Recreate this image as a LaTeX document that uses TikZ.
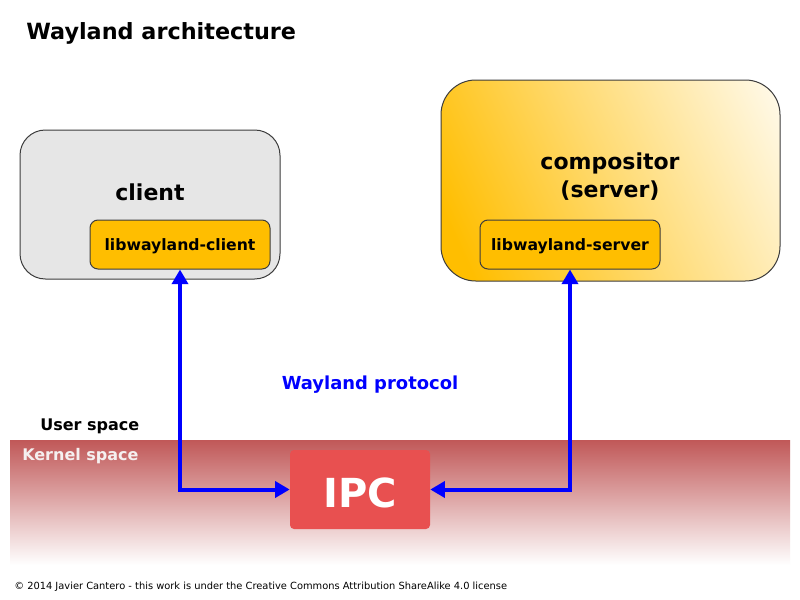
\documentclass[tikz,border=0pt]{standalone}
\usepackage{fontspec}
\setmainfont{DejaVu Sans}
\usetikzlibrary{arrows.meta}
\definecolor{amberc}{RGB}{255,190,0}
\definecolor{ambermid}{RGB}{255,218,112}
\definecolor{clientgray}{RGB}{230,230,230}
\definecolor{kernelred}{RGB}{192,88,88}
\definecolor{ipcred}{RGB}{232,80,80}
\definecolor{edgegray}{RGB}{60,60,60}
\pgfdeclarehorizontalshading{compshade}{100bp}{color(0bp)=(amberc); color(22bp)=(amberc); color(50bp)=(ambermid); color(88bp)=(white); color(100bp)=(white)}
\tikzset{
  bigbox/.style={draw=edgegray, line width=0.75pt, inner sep=0pt},
  libbox/.style={draw=edgegray, line width=0.75pt, fill=amberc, rounded corners=6pt,
    minimum width=135pt, minimum height=36.75pt, inner sep=0pt},
  bigtxt/.style={font=\bfseries\fontsize{16.5}{20.3}\selectfont, align=center},
  libtxt/.style={font=\bfseries\fontsize{11.75}{13}\selectfont},
  midtxt/.style={font=\bfseries\fontsize{12}{14}\selectfont},
  flow/.style={draw=blue, line width=3pt, {Triangle[length=11pt,width=12pt]}-{Triangle[length=11pt,width=12pt]}},
}
\begin{document}
\begin{tikzpicture}[x=0.75pt,y=-0.75pt]
\path[use as bounding box, fill=white] (0,0) rectangle (800,600);
% kernel band
\shade[top color=kernelred, bottom color=white] (10,440) rectangle (790,565);
% title
\node[anchor=base west, inner sep=0pt, font=\bfseries\fontsize{16.75}{20}\selectfont] (title) at (26,39) {Wayland architecture};
% client
\node[bigbox, fill=clientgray, rounded corners=19pt, minimum width=195pt, minimum height=111.75pt] (client) at (150,204.5) {};
\node[bigtxt, anchor=base, inner sep=0pt] (clienttxt) at (150,200) {client};
\node[libbox] (lc) at (180,244.5) {};
\node[libtxt, anchor=base, inner sep=0pt] (lctxt) at (180,250) {libwayland-client};
% compositor
\node[bigbox, shading=compshade, shading angle=25, rounded corners=26pt, minimum width=254.25pt, minimum height=150.75pt] (comp) at (610.5,180.5) {};
\node[bigtxt, anchor=base, inner sep=0pt] (comptxt) at (610,197) {compositor\\(server)};
\node[libbox] (ls) at (570,244.5) {};
\node[libtxt, anchor=base, inner sep=0pt] (lstxt) at (570,250) {libwayland-server};
% labels
\node[font=\bfseries\fontsize{13.45}{15}\selectfont, text=blue, anchor=base, inner sep=0pt] (proto) at (370,389) {Wayland protocol};
\node[midtxt, anchor=base west, inner sep=0pt] (user) at (40,430) {User space};
\node[midtxt, text={rgb,255:red,245;green,240;blue,240}, anchor=base west, inner sep=0pt] (kernel) at (22,460) {Kernel space};
% IPC
\node[fill=ipcred, rounded corners=3pt, minimum width=105pt, minimum height=59.25pt, inner sep=0pt] (ipc) at (360,489.5) {};
\node[anchor=base, inner sep=0pt, text=white, font=\bfseries\fontsize{30}{34}\selectfont] (ipctxt) at (360,507) {IPC};
% connectors
\draw[flow] (ipc.west) -| (lc.south);
\draw[flow] (ipc.east) -| (ls.south);
% footer
\node[anchor=base west, inner sep=0pt, font=\fontsize{7.4}{9}\selectfont] (footer) at (14,589) {© 2014 Javier Cantero - this work is under the Creative Commons Attribution ShareAlike 4.0 license};
\end{tikzpicture}
\end{document}
